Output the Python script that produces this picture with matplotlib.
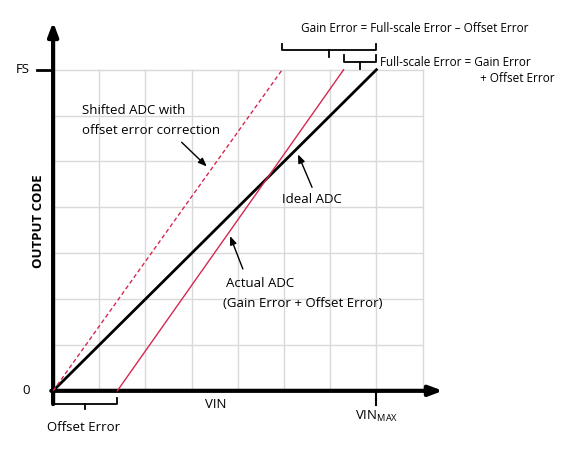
import matplotlib
matplotlib.use("Agg")
import matplotlib.pyplot as plt

plt.rcParams['font.family'] = ['Open Sans', 'DejaVu Sans']

# data (grid units)
ideal_x = [0, 7]; ideal_y = [0, 7]
actual_x = [1.39, 6.29]; actual_y = [0, 7]
shifted_x = [0, 4.96]; shifted_y = [0, 7]
fs = 7; vin_max = 7; offset = 1.39

fig = plt.figure(figsize=(5.69, 4.5), dpi=100)
ax = fig.add_axes([0, 0, 1, 1])
ax.set_xlim(-1.15, 11.17); ax.set_ylim(-1.29, 8.52)
ax.axis('off')

gc = '#d9d9d9'
for k in range(1, 9):
    ax.plot([k, k], [0, 7], color=gc, lw=1, zorder=0)
for k in range(1, 8):
    ax.plot([0, 8], [k, k], color=gc, lw=1, zorder=0)

# axes with arrows
ax.annotate('', xy=(8.5, 0), xytext=(-0.1, 0),
            arrowprops=dict(arrowstyle='-|>,head_length=0.8,head_width=0.3', lw=3, color='black'))
ax.annotate('', xy=(0, 8.1), xytext=(0, -0.35),
            arrowprops=dict(arrowstyle='-|>,head_length=0.8,head_width=0.3', lw=3, color='black'))

ax.plot(ideal_x, ideal_y, color='black', lw=2, zorder=3)
ax.plot(actual_x, actual_y, color='#d6284f', lw=1, zorder=3)
ax.plot(shifted_x, shifted_y, color='#d6284f', lw=1, ls=(0, (3, 2)), zorder=3)

fsz = 9.5
ax.plot([-0.35, 0], [fs, fs], color='black', lw=2)
ax.text(-0.5, fs, 'FS', ha='right', va='center', fontsize=fsz)
ax.text(-0.5, 0, '0', ha='right', va='center', fontsize=fsz)
ax.text(-0.32, 3.69, 'OUTPUT CODE', rotation=90, ha='center', va='center', fontsize=fsz, fontweight='bold')
ax.text(3.53, -0.3, 'VIN', ha='center', va='center', fontsize=fsz)
ax.plot([vin_max, vin_max], [0, -0.3], color='black', lw=1.5)
ax.text(7.0, -0.55, r'VIN$_{\mathregular{MAX}}$', ha='center', va='center', fontsize=fsz)

def brace(x0, x1, y, h, lw=1.3):
    ax.plot([x0, x0, x1, x1], [y - h, y, y, y - h], color='black', lw=lw)
    m = (x0 + x1) / 2
    ax.plot([m, m], [y, y + h], color='black', lw=lw)

brace(0, offset, -0.28, -0.12)
ax.text(0.66, -0.8, 'Offset Error', ha='center', va='center', fontsize=fsz)
brace(4.96, 7.0, 7.42, -0.15)
brace(6.29, 7.0, 7.17, -0.15)
ax.text(7.82, 7.9, 'Gain Error = Full-scale Error \u2013 Offset Error', ha='center', va='center', fontsize=8.5)
ax.text(7.08, 7.15, 'Full-scale Error = Gain Error', ha='left', va='center', fontsize=8.5)
ax.text(10.85, 6.8, '+ Offset Error', ha='right', va='center', fontsize=8.5)

ax.text(0.63, 6.12, 'Shifted ADC with', ha='left', va='center', fontsize=fsz)
ax.text(0.63, 5.68, 'offset error correction', ha='left', va='center', fontsize=fsz)
ax.annotate('', xy=(3.37, 4.85), xytext=(2.74, 5.46),
            arrowprops=dict(arrowstyle='-|>,head_length=0.5,head_width=0.2', lw=1, color='black'))
ax.text(5.6, 4.16, 'Ideal ADC', ha='center', va='center', fontsize=fsz)
ax.annotate('', xy=(5.28, 5.21), xytext=(5.63, 4.38),
            arrowprops=dict(arrowstyle='-|>,head_length=0.5,head_width=0.2', lw=1, color='black'))
ax.text(3.75, 2.34, 'Actual ADC', ha='left', va='center', fontsize=fsz)
ax.text(3.67, 1.90, '(Gain Error + Offset Error)', ha='left', va='center', fontsize=fsz)
ax.annotate('', xy=(3.81, 3.43), xytext=(4.13, 2.6),
            arrowprops=dict(arrowstyle='-|>,head_length=0.5,head_width=0.2', lw=1, color='black'))

fig.savefig('out.png', dpi=100)
